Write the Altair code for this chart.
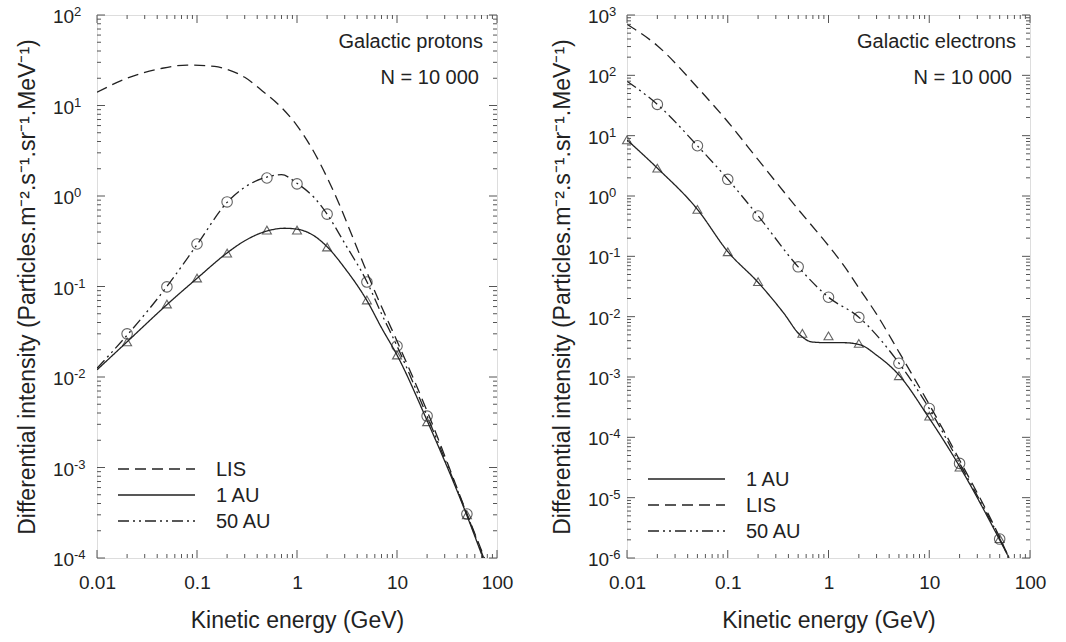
import altair as alt
import pandas as pd

FONT = "Liberation Sans"
INK = "#222222"

# ---------------- data: galactic protons ----------------
P_LIS_E = [0.01, 0.02, 0.045, 0.08, 0.15, 0.2, 0.3, 0.45, 0.7, 1, 1.4, 2, 2.6, 3.5, 4.7, 6.3, 10, 20, 50, 75]
P_LIS_I = [14, 20, 25.8, 28, 27, 25, 20.5, 14.5, 9.5, 6.0, 3.4, 1.6, 0.85, 0.38, 0.17, 0.078, 0.025, 0.0042, 3.1e-4, 1e-4]

P_1AU_E = [0.01, 0.02, 0.05, 0.1, 0.2, 0.3, 0.5, 0.75, 1, 1.5, 2, 3, 5, 7, 10, 20, 50, 75]
P_1AU_I = [0.012, 0.0245, 0.063, 0.123, 0.235, 0.32, 0.41, 0.44, 0.43, 0.36, 0.275, 0.16, 0.07, 0.035, 0.0175, 0.0033, 2.95e-4, 9e-5]

P_50AU_E = [0.01, 0.02, 0.05, 0.1, 0.2, 0.3, 0.5, 0.7, 1, 1.5, 2, 3, 5, 7, 10, 20, 50, 75]
P_50AU_I = [0.0125, 0.029, 0.1, 0.29, 0.85, 1.25, 1.62, 1.72, 1.38, 0.95, 0.63, 0.3, 0.113, 0.05, 0.022, 0.0037, 3.05e-4, 9.5e-5]

P_CIRC_E = [0.02, 0.05, 0.1, 0.2, 0.5, 1, 2, 5, 10, 20, 50]
P_CIRC_I = [0.030, 0.099, 0.295, 0.86, 1.58, 1.36, 0.63, 0.112, 0.022, 0.0037, 3.06e-4]
P_TRI_E = [0.02, 0.05, 0.1, 0.2, 0.5, 1, 2, 5, 10, 20, 50]
P_TRI_I = [0.0244, 0.064, 0.124, 0.234, 0.42, 0.42, 0.273, 0.071, 0.0175, 0.0032, 3.0e-4]

# ---------------- data: galactic electrons ----------------
E_LIS_E = [0.01, 0.02, 0.05, 0.1, 0.2, 0.5, 1, 1.45, 2, 3, 5, 10, 20, 50, 62]
E_LIS_I = [700, 310, 63, 17, 4.0, 0.6, 0.15, 0.067, 0.03, 0.011, 0.0026, 3.5e-4, 4.2e-5, 2.2e-6, 1e-6]

E_1AU_E = [0.01, 0.02, 0.05, 0.1, 0.2, 0.36, 0.52, 0.69, 1, 1.44, 2.08, 3, 5, 9.6, 20, 50, 62]
E_1AU_I = [8.5, 2.9, 0.6, 0.12, 0.037, 0.0114, 0.005, 0.0038, 0.0037, 0.0037, 0.0034, 0.0023, 0.00108, 2.3e-4, 3.3e-5, 2.0e-6, 1e-6]

E_50AU_E = [0.01, 0.02, 0.05, 0.1, 0.2, 0.5, 1, 2, 5, 10, 20, 50, 62]
E_50AU_I = [80, 33, 6.8, 1.9, 0.47, 0.067, 0.021, 0.0098, 0.0017, 3.0e-4, 3.7e-5, 2.1e-6, 1e-6]

E_CIRC_E = [0.02, 0.05, 0.1, 0.2, 0.5, 1, 2, 5, 10, 20, 50]
E_CIRC_I = [33, 6.8, 1.89, 0.466, 0.067, 0.021, 0.00975, 0.00169, 3.0e-4, 3.7e-5, 2.06e-6]
E_TRI_E = [0.01, 0.02, 0.05, 0.1, 0.2, 0.55, 1, 2, 5, 10, 20, 50]
E_TRI_I = [8.5, 2.9, 0.6, 0.119, 0.038, 0.0053, 0.0048, 0.0036, 0.00105, 2.25e-4, 3.2e-5, 2.1e-6]

# ---------------- axes ----------------
X_TICKS = [0.01, 0.1, 1, 10, 100]
X_LABELS = ["0.01", "0.1", "1", "10", "100"]
P_Y_TICKS = [1e-4, 1e-3, 1e-2, 1e-1, 1, 10, 100]
P_Y_EXP = ["-4", "-3", "-2", "-1", "0", "1", "2"]
E_Y_TICKS = [1e-6, 1e-5, 1e-4, 1e-3, 1e-2, 1e-1, 1, 10, 100, 1000]
E_Y_EXP = ["-6", "-5", "-4", "-3", "-2", "-1", "0", "1", "2", "3"]

X_TITLE = "Kinetic energy (GeV)"
Y_TITLE = "Differential intensity (Particles.m⁻².s⁻¹.sr⁻¹.MeV⁻¹)"

SERIES = ["LIS", "1 AU", "50 AU"]
DASHES = [[11, 6], [1, 0], [11, 4, 2, 4, 2, 4]]

W, H = 400, 543


def minor_ticks(majors):
    out = []
    for m in majors[:-1]:
        out += [m * k for k in range(2, 10)]
    return out


def panel(curves, circ, tri, y_ticks, y_exp, title1, legend_order, legend_y0, label_x, width):
    xs = alt.Scale(type="log", domain=[X_TICKS[0], X_TICKS[-1]], nice=False)
    ys = alt.Scale(type="log", domain=[y_ticks[0], y_ticks[-1]], nice=False)
    x_expr = "[" + ",".join(f"'{s}'" for s in X_LABELS) + "][round(log(datum.value)/LN10)+2]"
    xaxis = alt.Axis(values=X_TICKS, labelExpr=x_expr, ticks=False, domain=False, grid=False,
                     labelFont=FONT, labelFontSize=19, labelColor=INK, labelPadding=15,
                     labelFlush=False, labelOverlap=False,
                     title=X_TITLE, titleFont=FONT, titleFontSize=23, titleFontWeight="normal",
                     titleColor=INK, titlePadding=17)
    yaxis = alt.Axis(values=y_ticks, labels=False, ticks=False, domain=False, grid=False,
                     title=Y_TITLE, titleFont=FONT, titleFontSize=23, titleFontWeight="normal",
                     titleColor=INK, titlePadding=-label_x + 14)
    X = alt.X("E:Q", scale=xs, axis=xaxis)
    Y = alt.Y("I:Q", scale=ys, axis=yaxis)

    rows = []
    for name, (es, vs) in curves.items():
        for e, v in zip(es, vs):
            rows.append({"series": name, "E": e, "I": v})
    df = pd.DataFrame(rows)

    lines = alt.Chart(df).mark_line(clip=True, color=INK, strokeWidth=1.3, interpolate="monotone").encode(
        x=X, y=Y, detail="series:N",
        strokeDash=alt.StrokeDash("series:N", scale=alt.Scale(domain=SERIES, range=DASHES), legend=None),
    )
    circles = alt.Chart(pd.DataFrame({"E": circ[0], "I": circ[1]})).mark_point(
        shape="circle", size=110, filled=False, color=INK, strokeWidth=1.1).encode(x=X, y=Y)
    tris = alt.Chart(pd.DataFrame({"E": tri[0], "I": tri[1]})).mark_point(
        shape="triangle-up", size=80, filled=False, color=INK, strokeWidth=1.1).encode(x=X, y=Y)

    layers = [lines, circles, tris]

    # y tick labels: "10" with a raised exponent
    lab = pd.DataFrame({"I": y_ticks, "exp": y_exp})
    layers.append(alt.Chart(lab).mark_text(font=FONT, fontSize=19, color=INK, align="left",
                                           baseline="middle", dy=2).encode(
        y=Y, x=alt.value(label_x), text=alt.value("10")))
    layers.append(alt.Chart(lab).mark_text(font=FONT, fontSize=13, color=INK, align="left",
                                           baseline="middle", dy=-3).encode(
        y=Y, x=alt.value(label_x + 21), text="exp:N"))

    # inward ticks on all four sides
    tick_col = "#555555"
    for vals, ln in [(y_ticks, 8), (minor_ticks(y_ticks), 4)]:
        d = pd.DataFrame({"I": vals})
        layers.append(alt.Chart(d).mark_rule(color=tick_col, strokeWidth=1).encode(
            y=Y, x=alt.value(0), x2=alt.value(ln)))
        layers.append(alt.Chart(d).mark_rule(color=tick_col, strokeWidth=1).encode(
            y=Y, x=alt.value(width), x2=alt.value(width - ln)))
    for vals, ln in [(X_TICKS, 8), (minor_ticks(X_TICKS), 4)]:
        d = pd.DataFrame({"E": vals})
        layers.append(alt.Chart(d).mark_rule(color=tick_col, strokeWidth=1).encode(
            x=X, y=alt.value(H), y2=alt.value(H - ln)))
        layers.append(alt.Chart(d).mark_rule(color=tick_col, strokeWidth=1).encode(
            x=X, y=alt.value(0), y2=alt.value(ln)))

    one = pd.DataFrame({"a": [0]})
    # annotations
    layers.append(alt.Chart(one).mark_text(text=title1, font=FONT, fontSize=20, color=INK,
                                           align="right", baseline="middle").encode(
        x=alt.value(width - 14), y=alt.value(27)))
    layers.append(alt.Chart(one).mark_text(text="N = 10 000", font=FONT, fontSize=20, color=INK,
                                           align="right", baseline="middle").encode(
        x=alt.value(width - 18), y=alt.value(63)))

    # legend
    for i, name in enumerate(legend_order):
        yy = legend_y0 + 26 * i
        dash = DASHES[SERIES.index(name)]
        layers.append(alt.Chart(one).mark_rule(color=INK, strokeWidth=1.3, strokeDash=dash).encode(
            x=alt.value(21), x2=alt.value(98), y=alt.value(yy)))
        layers.append(alt.Chart(one).mark_text(text=name, font=FONT, fontSize=20, color=INK,
                                               align="left", baseline="middle").encode(
            x=alt.value(119), y=alt.value(yy + 1)))

    return alt.layer(*layers).properties(width=width, height=H)


left = panel({"LIS": (P_LIS_E, P_LIS_I), "1 AU": (P_1AU_E, P_1AU_I), "50 AU": (P_50AU_E, P_50AU_I)},
             (P_CIRC_E, P_CIRC_I), (P_TRI_E, P_TRI_I), P_Y_TICKS, P_Y_EXP,
             "Galactic protons", ["LIS", "1 AU", "50 AU"], 454, -44, 400)
right = panel({"LIS": (E_LIS_E, E_LIS_I), "1 AU": (E_1AU_E, E_1AU_I), "50 AU": (E_50AU_E, E_50AU_I)},
              (E_CIRC_E, E_CIRC_I), (E_TRI_E, E_TRI_I), E_Y_TICKS, E_Y_EXP,
              "Galactic electrons", ["1 AU", "LIS", "50 AU"], 464, -39, 403)

chart = alt.hconcat(left, right, spacing=36).properties(
    padding={"left": 15, "top": 5, "right": 0, "bottom": 0}
).configure_view(stroke="#555555", strokeWidth=1.5).configure(background="white")

chart.save("out.html", embed_options={"renderer": "svg", "actions": False})
